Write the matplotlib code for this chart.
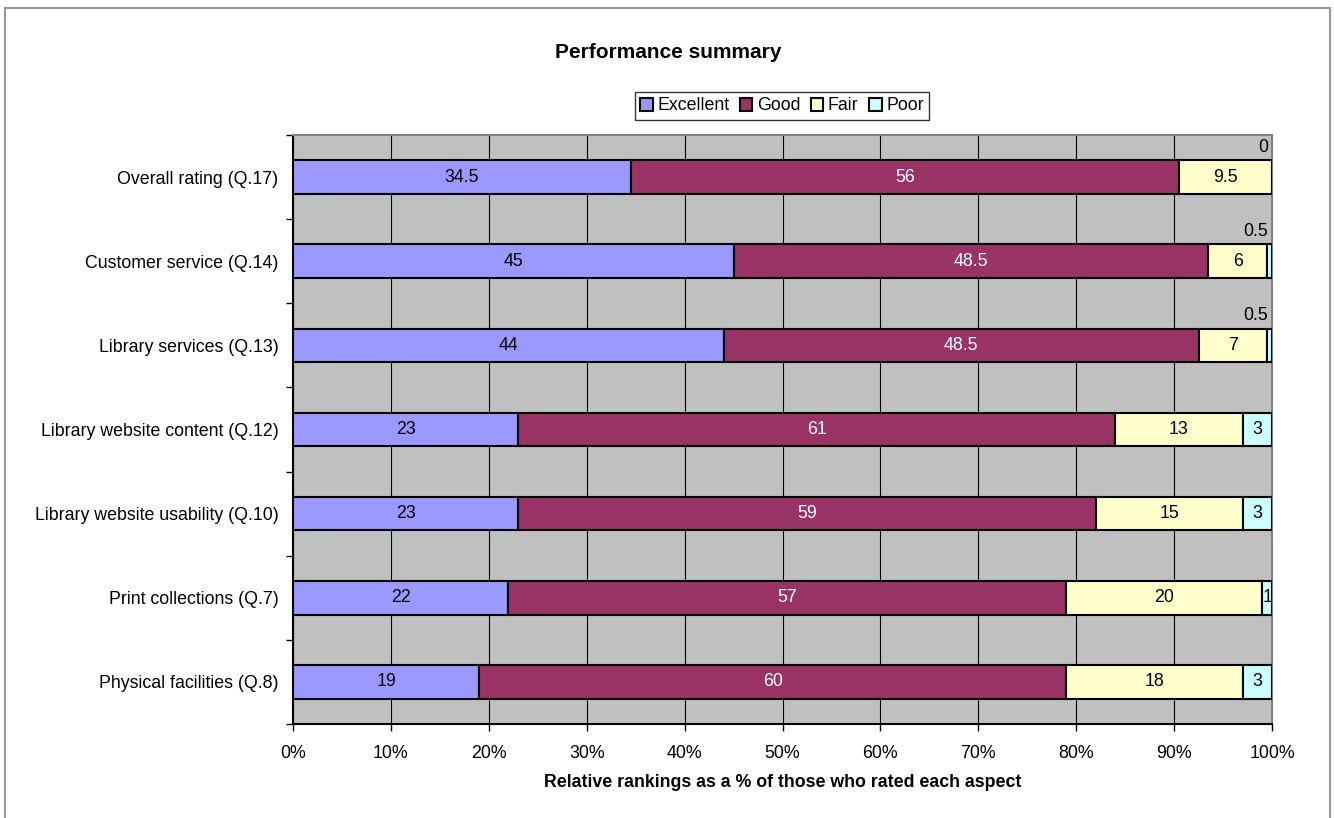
import matplotlib
matplotlib.use("Agg")
from matplotlib import pyplot as plt
from matplotlib.lines import Line2D
import numpy as np

plt.rcParams['font.family'] = ['Liberation Sans', 'DejaVu Sans']

categories = ["Overall rating (Q.17)", "Customer service (Q.14)", "Library services (Q.13)",
              "Library website content (Q.12)", "Library website usability (Q.10)",
              "Print collections (Q.7)", "Physical facilities (Q.8)"]
excellent = [34.5, 45, 44, 23, 23, 22, 19]
good = [56, 48.5, 48.5, 61, 59, 57, 60]
fair = [9.5, 6, 7, 13, 15, 20, 18]
poor = [0, 0.5, 0.5, 3, 3, 1, 3]

series = [("Excellent", excellent, "#9999FF", "black"),
          ("Good", good, "#993366", "white"),
          ("Fair", fair, "#FFFFCC", "black"),
          ("Poor", poor, "#CCFFFF", "black")]

FS = 12.8
W, H = 1334, 818
fig = plt.figure(figsize=(W / 100, H / 100), dpi=100)

# outer chart border (bottom edge is off the picture)
for xs, ys in [([5, 5], [8, 830]), ([5, 1330], [8, 8]), ([1330, 1330], [8, 830])]:
    fig.add_artist(Line2D([x / W for x in xs], [1 - y / H for y in ys],
                          color="#999999", lw=1.5, transform=fig.transFigure))

ax = fig.add_axes([293 / W, (H - 724) / H, (1272 - 293) / W, (724 - 135) / H])
ax.set_facecolor("#C0C0C0")

n = len(categories)
ypos = np.arange(n)[::-1]
totals = np.array(excellent) + np.array(good) + np.array(fair) + np.array(poor)

left = np.zeros(n)
for name, vals, color, tcol in series:
    pct = np.array(vals) / totals * 100
    ax.barh(ypos, pct, left=left, height=0.4, color=color, edgecolor="black",
            linewidth=1.5, label=name, zorder=3)
    for yi, l, p, v in zip(ypos, left, pct, vals):
        txt = "%g" % v
        if name == "Poor" and v < 1:
            ax.text(99.6, yi + 0.25, txt, ha="right", va="bottom", fontsize=FS,
                    color="black", zorder=4)
        else:
            ax.text(l + p / 2, yi, txt, ha="center", va="center", fontsize=FS,
                    color=tcol, zorder=4)
    left += pct

ax.set_xlim(0, 100)
ax.set_ylim(-0.5, n - 0.5)
ax.set_xticks(np.arange(0, 101, 10))
ax.set_xticklabels(["%d%%" % v for v in range(0, 101, 10)], fontsize=FS)
ax.xaxis.grid(True, color="black", linewidth=0.8, zorder=0)
ax.set_axisbelow(True)
ax.tick_params(axis="x", direction="out", length=5, width=1, pad=10)

ax.set_yticks(ypos)
ax.set_yticklabels(categories, fontsize=FS)
ax.tick_params(axis="y", which="major", length=0, pad=10.5)
ax.set_yticks(np.arange(-0.5, n, 1), minor=True)
ax.tick_params(axis="y", which="minor", direction="out", length=5, width=1)

for s in ["left", "bottom"]:
    ax.spines[s].set_color("black")
    ax.spines[s].set_linewidth(1.5)
for s in ["top", "right"]:
    ax.spines[s].set_color("#808080")
    ax.spines[s].set_linewidth(1.5)

ax.set_xlabel("Relative rankings as a % of those who rated each aspect",
              fontsize=FS, fontweight="bold", labelpad=9)
fig.text(668 / W, 1 - 52 / H, "Performance summary", ha="center", va="center",
         fontsize=15, fontweight="bold")

leg = fig.legend(loc="center", bbox_to_anchor=(782 / W, 1 - 106 / H), ncol=4,
                 fontsize=FS, frameon=True, fancybox=False, edgecolor="black",
                 handlelength=0.7, handleheight=0.7, handletextpad=0.25,
                 columnspacing=0.6, borderpad=0.3, borderaxespad=0)
leg.get_frame().set_linewidth(1)

fig.savefig("out.png", dpi=100)
